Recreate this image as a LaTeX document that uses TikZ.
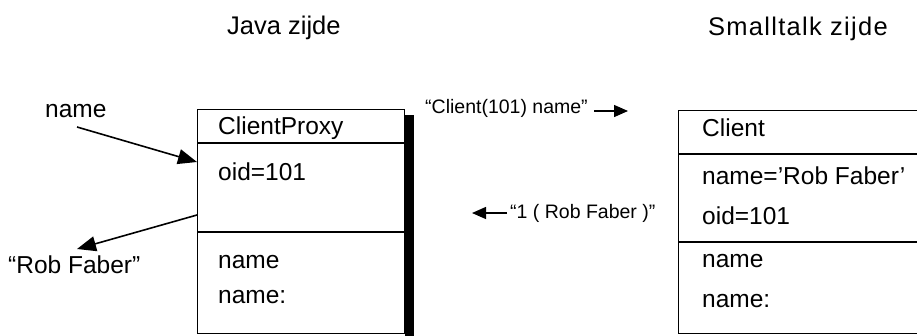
\documentclass[tikz,border=0pt]{standalone}
\usepackage{fontspec}
\setmainfont{Liberation Sans}
\usetikzlibrary{arrows.meta}
\begin{document}
\begin{tikzpicture}[x=1pt,y=-1pt,
  txt/.style={anchor=base west,inner sep=0pt,font=\fontsize{24.5}{28}\selectfont},
  ttl/.style={anchor=base west,inner sep=0pt,font=\fontsize{25.5}{29}\selectfont},
  small/.style={anchor=base west,inner sep=0pt,font=\fontsize{19.5}{24}\selectfont},
  boxline/.style={line width=1.3pt},
  bigarrow/.style={line width=1.6pt,-{Triangle[length=19pt,width=15pt]}},
  smallarrow/.style={line width=1.4pt,-{Triangle[length=14pt,width=12pt]}}]
\path[use as bounding box] (0,0) rectangle (917,335);
\clip (0,0) rectangle (917,335);

% titles
\node[ttl] (tjava) at (227,34) {Java zijde};
\node[ttl] (tsmall) at (708,35) {\addfontfeature{LetterSpace=5}Smalltalk zijde};

% left box (ClientProxy)
\node[draw,boxline,anchor=north west,minimum width=207pt,minimum height=224pt,inner sep=0pt] (proxy) at (197,109) {};
\node[fill=black,anchor=north west,minimum width=9pt,minimum height=222pt,inner sep=0pt] (shadow) at (404.5,115) {};
\draw[boxline] (proxy.west |- 0,143) -- (proxy.east |- 0,143);
\draw[boxline] (proxy.west |- 0,232) -- (proxy.east |- 0,232);
\node[txt] (pname) at (218,134) {ClientProxy};
\node[txt] (poid) at (218,180) {oid=101};
\node[txt] (pm1) at (218,268) {name};
\node[txt] (pm2) at (218,303) {name:};

% right box (Client)
\node[draw,boxline,anchor=north west,minimum width=260pt,minimum height=223pt,inner sep=0pt] (client) at (678,110) {};
\draw[boxline] (client.west |- 0,154) -- (client.east |- 0,154);
\draw[boxline] (client.west |- 0,242) -- (client.east |- 0,242);
\node[txt] (cname) at (702,136) {Client};
\node[txt] (cattr1) at (702,184) {name='Rob Faber'};
\node[txt] (cattr2) at (702,224) {oid=101};
\node[txt] (cm1) at (702,267) {name};
\node[txt] (cm2) at (702,307) {name:};

% left labels and arrows
\node[txt] (lname) at (45,117) {name};
\node[txt] (lrob) at (8,273) {“Rob Faber”};
\coordinate (a1s) at (77,127);
\coordinate (a2e) at (77,249);
\draw[bigarrow] (a1s) -- (proxy.west |- 0,162);
\draw[bigarrow] (proxy.west |- 0,215) -- (a2e);

% messages
\node[small] (msg1) at (425,113) {“Client(101) name”};
\node[small] (msg2) at (510,218) {“1 ( Rob Faber )”};
\coordinate (m1s) at (594,111);
\coordinate (m1e) at (628,111);
\coordinate (m2s) at (507,213);
\coordinate (m2e) at (472,213);
\draw[smallarrow] (m1s) -- (m1e);
\draw[smallarrow] (m2s) -- (m2e);
\end{tikzpicture}
\end{document}
